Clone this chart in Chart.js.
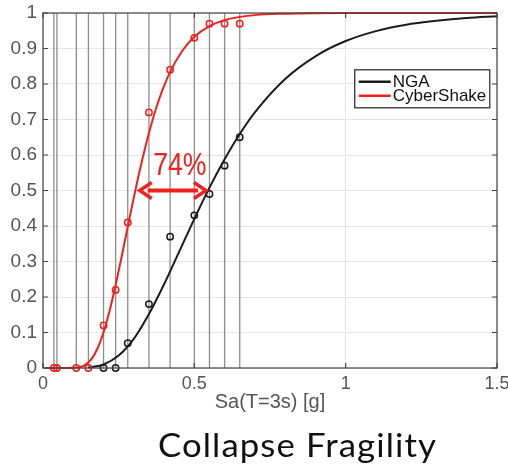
<!DOCTYPE html>
<html>
<head>
<meta charset="utf-8">
<script src="https://cdn.jsdelivr.net/npm/chart.js@4.4.1/dist/chart.umd.min.js"></script>
<style>
  html, body { margin: 0; padding: 0; background: #fff; }
</style>
</head>
<body>
<canvas id="mycanvas" width="508" height="472"></canvas>
<script>
// axis ticks
var xTicks = [0, 0.5, 1, 1.5];
var yTicks = [0, 0.1, 0.2, 0.3, 0.4, 0.5, 0.6, 0.7, 0.8, 0.9, 1];

// Sa levels that were run (vertical lines)
var imLevels = [0.036, 0.046, 0.11, 0.15, 0.2, 0.24, 0.28, 0.35, 0.42, 0.5, 0.55, 0.6, 0.65];

var seriesNames = ['NGA', 'CyberShake'];
var seriesColors = ['#1c1c1c', '#f0201e'];

// observed collapse fractions
var ngaObsX = [0.2, 0.24, 0.28, 0.35, 0.42, 0.5, 0.55, 0.6, 0.65];
var ngaObsY = [0, 0, 0.07, 0.18, 0.37, 0.43, 0.49, 0.57, 0.65];
var csObsX = [0.036, 0.046, 0.11, 0.15, 0.2, 0.24, 0.28, 0.35, 0.42, 0.5, 0.55, 0.6, 0.65];
var csObsY = [0, 0, 0, 0, 0.12, 0.22, 0.41, 0.72, 0.84, 0.93, 0.97, 0.97, 0.97];

// fitted fragility curves
var ngaCurveX = [0.15, 0.2, 0.25, 0.3, 0.35, 0.4, 0.45, 0.5, 0.55, 0.6, 0.65, 0.7, 0.8, 0.9, 1.0, 1.1, 1.2, 1.3, 1.4, 1.5];
var ngaCurveY = [0.001, 0.01, 0.035, 0.082, 0.152, 0.236, 0.328, 0.42, 0.508, 0.588, 0.659, 0.72, 0.814, 0.878, 0.921, 0.949, 0.967, 0.978, 0.986, 0.991];
var csCurveX = [0.01, 0.08, 0.1, 0.12, 0.14, 0.16, 0.18, 0.2, 0.22, 0.24, 0.26, 0.28, 0.3, 0.32, 0.35, 0.38, 0.42, 0.46, 0.5, 0.55, 0.6, 0.7, 0.8, 1.0, 1.2, 1.5];
var csCurveY = [0, 0, 0.0004, 0.002, 0.009, 0.025, 0.055, 0.1, 0.161, 0.234, 0.314, 0.398, 0.48, 0.558, 0.662, 0.748, 0.834, 0.893, 0.933, 0.963, 0.98, 0.994, 0.998, 1, 1, 1];

// median Sa of each fit [NGA, CyberShake]
var medians = [0.545, 0.313];

function pts(xs, ys) {
  return xs.map(function (x, i) { return { x: x, y: ys[i] }; });
}

var gridGrey = '#e4e4e4';
var axisGrey = '#444';
var labelGrey = '#555';
var helv = 'Liberation Sans, Arial, Helvetica, sans-serif';

var extras = {
  id: 'extras',
  beforeDatasetsDraw: function (chart) {
    var ctx = chart.ctx, a = chart.chartArea, sx = chart.scales.x;
    ctx.save();
    ctx.strokeStyle = '#8c8c8c';
    ctx.lineWidth = 1.3;
    imLevels.forEach(function (v) {
      var px = sx.getPixelForValue(v);
      ctx.beginPath();
      ctx.moveTo(px, a.top);
      ctx.lineTo(px, a.bottom);
      ctx.stroke();
    });
    ctx.restore();
  },
  afterDatasetsDraw: function (chart) {
    var ctx = chart.ctx, sx = chart.scales.x, sy = chart.scales.y;
    var x0 = sx.getPixelForValue(medians[1]);
    var x1 = sx.getPixelForValue(medians[0]);
    var y = sy.getPixelForValue(0.5);
    var col = seriesColors[1];
    ctx.save();
    ctx.strokeStyle = col;
    ctx.fillStyle = col;
    ctx.lineWidth = 4;
    ctx.beginPath();
    ctx.moveTo(x0 + 10, y);
    ctx.lineTo(x1 - 10, y);
    ctx.stroke();
    // arrow heads
    ctx.lineWidth = 3.5;
    ctx.lineJoin = 'miter';
    ctx.beginPath();
    ctx.moveTo(x0 + 14, y - 8);
    ctx.lineTo(x0 + 2, y);
    ctx.lineTo(x0 + 14, y + 8);
    ctx.stroke();
    ctx.beginPath();
    ctx.moveTo(x1 - 14, y - 8);
    ctx.lineTo(x1 - 2, y);
    ctx.lineTo(x1 - 14, y + 8);
    ctx.stroke();
    // ratio label
    var pct = Math.round((medians[0] / medians[1] - 1) * 100) + '%';
    ctx.translate((x0 + x1) / 2 + 7, y - 16);
    ctx.scale(0.86, 1);
    ctx.font = '31px ' + helv;
    ctx.textAlign = 'center';
    ctx.textBaseline = 'alphabetic';
    ctx.fillText(pct, 0, 0);
    ctx.restore();
  },
  afterDraw: function (chart) {
    var ctx = chart.ctx, a = chart.chartArea, sx = chart.scales.x, sy = chart.scales.y;
    ctx.save();
    // box and inward ticks
    ctx.strokeStyle = axisGrey;
    ctx.lineWidth = 1.2;
    ctx.strokeRect(a.left, a.top, a.right - a.left, a.bottom - a.top);
    ctx.beginPath();
    yTicks.forEach(function (v) {
      var py = sy.getPixelForValue(v);
      ctx.moveTo(a.left, py); ctx.lineTo(a.left + 5, py);
      ctx.moveTo(a.right, py); ctx.lineTo(a.right - 5, py);
    });
    xTicks.forEach(function (v) {
      var px = sx.getPixelForValue(v);
      ctx.moveTo(px, a.bottom); ctx.lineTo(px, a.bottom - 5);
      ctx.moveTo(px, a.top); ctx.lineTo(px, a.top + 5);
    });
    ctx.stroke();

    // legend
    var lx = sx.getPixelForValue(1.03), ly = sy.getPixelForValue(0.84);
    var lw = 135, lh = 38;
    ctx.fillStyle = '#fff';
    ctx.fillRect(lx, ly, lw, lh);
    ctx.strokeStyle = '#333';
    ctx.lineWidth = 1.3;
    ctx.strokeRect(lx, ly, lw, lh);
    ctx.font = '17px ' + helv;
    ctx.textBaseline = 'middle';
    ctx.textAlign = 'left';
    chart.data.datasets.slice(0, 2).forEach(function (ds, i) {
      var ry = ly + 12 + i * 14;
      ctx.strokeStyle = ds.borderColor;
      ctx.lineWidth = 2.5;
      ctx.beginPath();
      ctx.moveTo(lx + 4, ry);
      ctx.lineTo(lx + 36, ry);
      ctx.stroke();
      ctx.fillStyle = '#111';
      ctx.fillText(ds.label, lx + 38, ry + 1);
    });

    // caption, stretched to its box width
    var cap = 'Collapse Fragility';
    ctx.fillStyle = '#111';
    ctx.font = '32px Lato, sans-serif';
    ctx.letterSpacing = '1px';
    var w = ctx.measureText(cap).width;
    ctx.translate(158, 457);
    ctx.scale(279 / w, 1);
    ctx.textAlign = 'left';
    ctx.textBaseline = 'alphabetic';
    ctx.fillText(cap, 0, 0);
    ctx.restore();
  }
};

var ctx = document.getElementById('mycanvas');
var chart = new Chart(ctx, {
  type: 'scatter',
  data: {
    datasets: [
      {
        label: seriesNames[0],
        data: pts(ngaCurveX, ngaCurveY),
        showLine: true,
        borderColor: seriesColors[0],
        borderWidth: 2,
        pointRadius: 0,
        cubicInterpolationMode: 'monotone',
        clip: false,
        order: 4
      },
      {
        label: seriesNames[1],
        data: pts(csCurveX, csCurveY),
        showLine: true,
        borderColor: seriesColors[1],
        borderWidth: 2,
        pointRadius: 0,
        cubicInterpolationMode: 'monotone',
        clip: false,
        order: 3
      },
      {
        label: seriesNames[0] + ' data',
        data: pts(ngaObsX, ngaObsY),
        borderColor: seriesColors[0],
        backgroundColor: 'rgba(0,0,0,0)',
        borderWidth: 1.5,
        pointRadius: 3.2,
        clip: false,
        order: 2
      },
      {
        label: seriesNames[1] + ' data',
        data: pts(csObsX, csObsY),
        borderColor: seriesColors[1],
        backgroundColor: 'rgba(0,0,0,0)',
        borderWidth: 1.5,
        pointRadius: 3.2,
        clip: false,
        order: 1
      }
    ]
  },
  options: {
    responsive: false,
    animation: false,
    devicePixelRatio: 1,
    layout: { padding: { left: 0, right: 11, top: 13, bottom: 56 } },
    plugins: {
      legend: { display: false },
      tooltip: { enabled: false }
    },
    scales: {
      x: {
        type: 'linear',
        min: 0,
        max: 1.5,
        afterBuildTicks: function (s) { s.ticks = xTicks.map(function (v) { return { value: v }; }); },
        afterFit: function (s) { s.height = 48; s.paddingLeft = 0; s.paddingRight = 0; },
        grid: { color: gridGrey, drawTicks: false },
        border: { display: false },
        ticks: {
          color: labelGrey,
          font: { family: helv, size: 18 },
          padding: 5,
          maxRotation: 0,
          callback: function (v) { return String(v); }
        },
        title: {
          display: true,
          text: 'Sa(T=3s) [g]',
          color: labelGrey,
          font: { family: helv, size: 20 },
          padding: { top: 0, bottom: 2 }
        }
      },
      y: {
        min: 0,
        max: 1,
        afterBuildTicks: function (s) { s.ticks = yTicks.map(function (v) { return { value: v }; }); },
        afterFit: function (s) { s.width = 43; s.paddingTop = 0; s.paddingBottom = 0; },
        grid: { color: gridGrey, drawTicks: false },
        border: { display: false },
        ticks: {
          color: labelGrey,
          font: { family: helv, size: 19 },
          padding: 6,
          callback: function (v) { return String(Math.round(v * 10) / 10); }
        }
      }
    }
  },
  plugins: [extras]
});
</script>
</body>
</html>
